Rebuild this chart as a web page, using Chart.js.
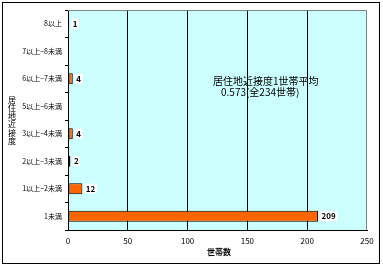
<!DOCTYPE html>
<html>
<head>
<meta charset="utf-8">
<script src="https://cdn.jsdelivr.net/npm/chart.js@4"></script>
<style>
  html, body { margin: 0; padding: 0; background: #fff; }
  #wrap { width: 383px; height: 268px; }
</style>
</head>
<body>
<div id="wrap"><canvas id="grafico"></canvas></div>
<script>
// Dados do gráfico (de cima para baixo)
const categorias = ['8以上', '7以上−8未満', '6以上−7未満', '5以上−6未満', '3以上−4未満', '2以上−3未満', '1以上−2未満', '1未満'];
const setores = [1, 0, 4, 0, 4, 2, 12, 209];
const ticksX = [0, 50, 100, 150, 200, 250];
const tituloY = '居住地近接度';
const tituloX = '世帯数';
const nota = ['居住地近接度1世帯平均', '0.573(全234世帯)'];

const FONTE = '"Noto Sans CJK JP", "Noto Sans", sans-serif';

// Moldura, fundo da área do gráfico, rótulos e textos extras
const desenhoExtra = {
    id: 'desenhoExtra',
    beforeDraw(chart) {
        const ctx = chart.ctx;
        const a = chart.chartArea;
        ctx.save();
        ctx.fillStyle = '#fff';
        ctx.fillRect(0, 0, chart.width, chart.height);
        ctx.strokeStyle = '#000';
        ctx.lineWidth = 1;
        ctx.strokeRect(2.5, 2.5, 377, 261);
        ctx.fillStyle = '#CCFFFF';
        ctx.fillRect(a.left, a.top, a.right - a.left, a.bottom - a.top);
        ctx.restore();
    },
    afterDatasetsDraw(chart) {
        const ctx = chart.ctx;
        const a = chart.chartArea;
        ctx.save();
        // borda cinza em cima e à direita
        ctx.strokeStyle = '#808080';
        ctx.lineWidth = 1;
        ctx.beginPath();
        ctx.moveTo(a.left, a.top + 0.5);
        ctx.lineTo(a.right - 0.5, a.top + 0.5);
        ctx.lineTo(a.right - 0.5, a.bottom);
        ctx.stroke();

        // valores ao lado das barras
        const meta = chart.getDatasetMeta(0);
        ctx.font = 'bold 8px ' + FONTE;
        ctx.textBaseline = 'middle';
        ctx.textAlign = 'left';
        meta.data.forEach((barra, i) => {
            const v = setores[i];
            if (!v) return;
            const txt = String(v);
            const w = ctx.measureText(txt).width;
            const x = barra.x + 2;
            ctx.fillStyle = '#fff';
            ctx.fillRect(x, barra.y - 5, w + 3, 10);
            ctx.fillStyle = '#000';
            ctx.fillText(txt, x + 1.5, barra.y);
        });

        // nota no meio do gráfico
        ctx.font = '10px ' + FONTE;
        ctx.fillText(nota[0], 213, 81);
        ctx.fillText(nota[1], 221, 92);

        // título do eixo X
        ctx.font = 'bold 8px ' + FONTE;
        ctx.textAlign = 'center';
        ctx.fillText(tituloX, 219, 252);

        // título do eixo Y (caracteres empilhados)
        ctx.font = '8px ' + FONTE;
        const ys = [100, 108, 116, 124, 133, 141];
        tituloY.split('').forEach((c, i) => {
            ctx.fillText(c, 12, ys[i]);
        });
        ctx.restore();
    }
};

function criarGrafico() {
    const ctx = document.getElementById('grafico').getContext('2d');
    return new Chart(ctx, {
        type: 'bar',
        data: {
            labels: categorias,
            datasets: [{
                data: setores,
                backgroundColor: '#FF6600',
                borderColor: '#000',
                borderWidth: 1,
                borderSkipped: false,
                categoryPercentage: 1,
                barPercentage: 0.4
            }]
        },
        options: {
            indexAxis: 'y',
            responsive: true,
            maintainAspectRatio: false,
            animation: false,
            layout: { padding: { left: 0, right: 16, top: 10, bottom: 0 } },
            plugins: {
                legend: { display: false },
                tooltip: { enabled: false }
            },
            scales: {
                x: {
                    min: 0,
                    max: 250,
                    afterBuildTicks: (s) => { s.ticks = ticksX.map(v => ({ value: v })); },
                    afterFit: (s) => { s.height = 38; },
                    grid: {
                        drawTicks: false,
                        color: (c) => (c.tick && (c.tick.value === 0 || c.tick.value === 250)) ? 'rgba(0,0,0,0)' : '#000',
                        lineWidth: 1
                    },
                    border: { color: '#000', width: 1 },
                    ticks: {
                        color: '#000',
                        padding: 6,
                        font: { family: FONTE, size: 8 }
                    }
                },
                y: {
                    afterFit: (s) => { s.width = 68; },
                    grid: {
                        drawOnChartArea: false,
                        tickLength: 3,
                        color: '#000'
                    },
                    border: { color: '#000', width: 1 },
                    ticks: {
                        color: '#000',
                        padding: 3,
                        font: { family: FONTE, size: 7 }
                    }
                }
            }
        },
        plugins: [desenhoExtra]
    });
}

document.addEventListener('DOMContentLoaded', () => {
    criarGrafico();
});
</script>
</body>
</html>
